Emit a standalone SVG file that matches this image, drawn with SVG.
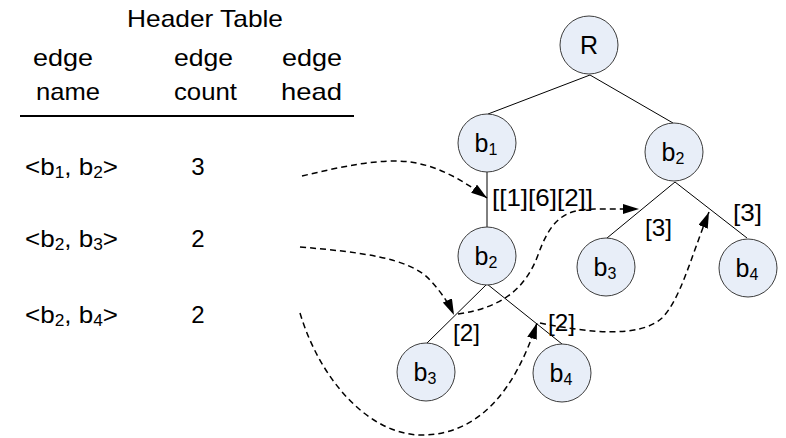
<svg xmlns="http://www.w3.org/2000/svg" width="786" height="438" viewBox="0 0 786 438">
  <style>
    text { font-family: "Liberation Sans", Arial, sans-serif; font-size: 24px; fill: #000; }
    .node circle { fill: #e8eef8; stroke: #3c3c3c; stroke-width: 1; }
    .node text { font-size: 25px; }
    .edge { stroke: #000; stroke-width: 1; fill: none; }
    .ptr { stroke: #000; stroke-width: 1.5; fill: none; stroke-dasharray: 6 4; marker-end: url(#arrow); }
    .sub { font-size: 16px; }
    .node .sub { font-size: 16px; }
  </style>
  <defs>
    <marker id="arrow" viewBox="0 0 16 10" refX="16" refY="5" markerWidth="16" markerHeight="10" markerUnits="userSpaceOnUse" orient="auto">
      <path d="M0,0 L16,5 L0,10 Z" fill="#000"/>
    </marker>
  </defs>

  <rect width="786" height="438" fill="#fff"/>

  <!-- header table -->
  <g id="header-table">
    <text x="127" y="27" textLength="156" lengthAdjust="spacingAndGlyphs">Header Table</text>
    <text x="33" y="66" textLength="60" lengthAdjust="spacingAndGlyphs">edge</text>
    <text x="36" y="100" textLength="64" lengthAdjust="spacingAndGlyphs">name</text>
    <text x="174" y="66" textLength="59" lengthAdjust="spacingAndGlyphs">edge</text>
    <text x="174" y="100" textLength="63" lengthAdjust="spacingAndGlyphs">count</text>
    <text x="282" y="66" textLength="60" lengthAdjust="spacingAndGlyphs">edge</text>
    <text x="281" y="100" textLength="61" lengthAdjust="spacingAndGlyphs">head</text>
    <line x1="20" y1="116" x2="354" y2="116" stroke="#000" stroke-width="2"/>

    <text x="25" y="175" textLength="93" lengthAdjust="spacingAndGlyphs">&lt;b<tspan class="sub" dy="3">1</tspan><tspan dy="-3">, b</tspan><tspan class="sub" dy="3">2</tspan><tspan dy="-3">&gt;</tspan></text>
    <text x="198" y="175" text-anchor="middle">3</text>
    <text x="25" y="247" textLength="93" lengthAdjust="spacingAndGlyphs">&lt;b<tspan class="sub" dy="3">2</tspan><tspan dy="-3">, b</tspan><tspan class="sub" dy="3">3</tspan><tspan dy="-3">&gt;</tspan></text>
    <text x="198" y="247" text-anchor="middle">2</text>
    <text x="25" y="323" textLength="93" lengthAdjust="spacingAndGlyphs">&lt;b<tspan class="sub" dy="3">2</tspan><tspan dy="-3">, b</tspan><tspan class="sub" dy="3">4</tspan><tspan dy="-3">&gt;</tspan></text>
    <text x="198" y="323" text-anchor="middle">2</text>
  </g>

  <!-- tree edges -->
  <g id="tree-edges">
    <line class="edge" x1="590" y1="75" x2="488" y2="114"/>
    <line class="edge" x1="590" y1="75" x2="673" y2="123"/>
    <line class="edge" x1="487" y1="172" x2="487" y2="227"/>
    <line class="edge" x1="675" y1="182" x2="607" y2="238"/>
    <line class="edge" x1="675" y1="182" x2="747" y2="238"/>
    <line class="edge" x1="487" y1="284" x2="427" y2="343"/>
    <line class="edge" x1="487" y1="284" x2="562" y2="344"/>
  </g>

  <!-- edge count labels -->
  <g id="edge-labels">
    <text x="492" y="206" font-size="25" textLength="101" lengthAdjust="spacingAndGlyphs">[[1][6][2]]</text>
    <text x="645" y="236" textLength="27" lengthAdjust="spacingAndGlyphs">[3]</text>
    <text x="733" y="221" textLength="29" lengthAdjust="spacingAndGlyphs">[3]</text>
    <text x="453" y="341" textLength="27" lengthAdjust="spacingAndGlyphs">[2]</text>
    <text x="548" y="331" textLength="27" lengthAdjust="spacingAndGlyphs">[2]</text>
  </g>

  <!-- nodes -->
  <g id="node-R" class="node"><circle cx="589" cy="45" r="29"/><text x="589" y="54" text-anchor="middle">R</text></g>
  <g id="node-b1" class="node"><circle cx="487" cy="143" r="29"/><text x="486" y="152" text-anchor="middle">b<tspan class="sub" dy="3">1</tspan></text></g>
  <g id="node-b2-right" class="node"><circle cx="674" cy="152" r="29"/><text x="673" y="161" text-anchor="middle">b<tspan class="sub" dy="3">2</tspan></text></g>
  <g id="node-b2-mid" class="node"><circle cx="487" cy="256" r="29"/><text x="486" y="265" text-anchor="middle">b<tspan class="sub" dy="3">2</tspan></text></g>
  <g id="node-b3-right" class="node"><circle cx="606" cy="267" r="29"/><text x="605" y="276" text-anchor="middle">b<tspan class="sub" dy="3">3</tspan></text></g>
  <g id="node-b4-right" class="node"><circle cx="748" cy="268" r="29"/><text x="747" y="277" text-anchor="middle">b<tspan class="sub" dy="3">4</tspan></text></g>
  <g id="node-b3-bottom" class="node"><circle cx="426" cy="372" r="29"/><text x="425" y="381" text-anchor="middle">b<tspan class="sub" dy="3">3</tspan></text></g>
  <g id="node-b4-bottom" class="node"><circle cx="562" cy="373" r="29"/><text x="561" y="382" text-anchor="middle">b<tspan class="sub" dy="3">4</tspan></text></g>

  <!-- head pointers and node links -->
  <g id="connectors">
    <path class="ptr" d="M302,176 C340,167 380,158 410,162 C440,166 465,182 487,198"/>
    <path class="ptr" d="M300,247 C360,252 410,258 430,280 C442,293 449,304 454,315"/>
    <path class="ptr" d="M300,313 C320,380 370,437 425,435 C480,433 515,390 537,323"/>
    <path class="ptr" d="M458,314 C500,308 525,290 538,255 C550,222 562,209 595,209 L639,209"/>
    <path class="ptr" d="M540,323 C590,333 640,338 662,318 C680,300 690,260 709,212"/>
  </g>
</svg>
